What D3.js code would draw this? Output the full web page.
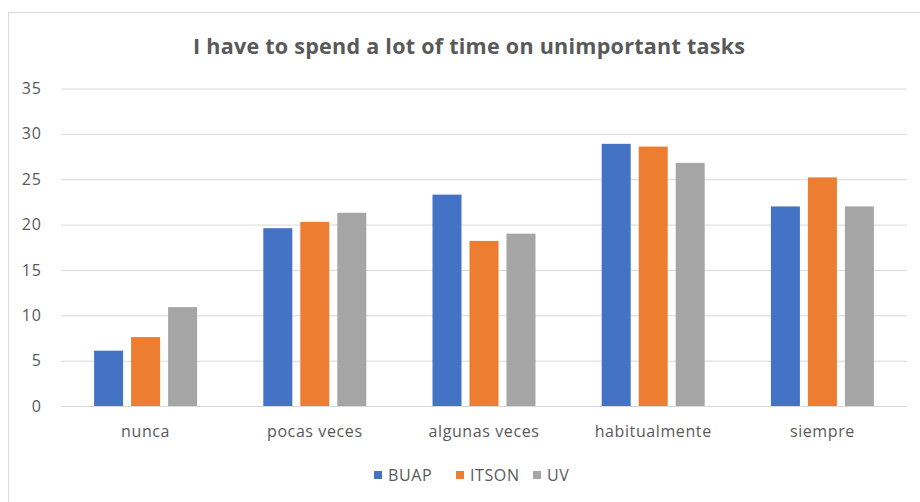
<!DOCTYPE html>
<html>
<head>
<meta charset="utf-8">
<script src="https://cdn.jsdelivr.net/npm/d3@7"></script>
<style>
  body { margin: 0; background: #fff; }
  text { font-family: "Open Sans", "Noto Sans", sans-serif; fill: #595959; }
</style>
</head>
<body>
<div id="chart"></div>
<script>
// chart data
const categories = ['nunca', 'pocas veces', 'algunas veces', 'habitualmente', 'siempre'];
const seriesNames = ['BUAP', 'ITSON', 'UV'];
const buap  = [6.1, 19.6, 23.3, 28.9, 22.0];
const itson = [7.6, 20.3, 18.2, 28.6, 25.2];
const uv    = [10.9, 21.3, 19.0, 26.8, 22.0];
const yTicks = [0, 5, 10, 15, 20, 25, 30, 35];
const colors = ['#4472C4', '#ED7D31', '#A5A5A5'];

const series = [buap, itson, uv];

const width = 920, height = 502;
const margin = { top: 88.5, right: 13, bottom: 96, left: 61 };
const innerW = width - margin.left - margin.right;
const innerH = height - margin.top - margin.bottom;

const svg = d3.select('#chart').append('svg')
  .attr('width', width)
  .attr('height', height);

// outer frame
svg.append('rect')
  .attr('x', 8.5).attr('y', 12.5)
  .attr('width', width + 10).attr('height', height)
  .attr('fill', '#fff')
  .attr('stroke', '#d9d9d9');

svg.append('text')
  .attr('x', 469).attr('y', 54)
  .attr('text-anchor', 'middle')
  .attr('font-size', '21.5px')
  .attr('font-weight', 'bold')
  .attr('textLength', 552)
  .attr('lengthAdjust', 'spacing')
  .text('I have to spend a lot of time on unimportant tasks');

const chart = svg.append('g')
  .attr('transform', `translate(${margin.left},${margin.top})`);

const x0 = d3.scaleBand().domain(categories).range([0, innerW]).padding(0);
const groupW = 103;
const x1 = d3.scaleBand().domain(seriesNames)
  .range([(x0.bandwidth() - groupW) / 2, (x0.bandwidth() + groupW) / 2])
  .paddingInner(0.216);
const y = d3.scaleLinear().domain([0, 35]).range([innerH, 0]);

// gridlines + y labels
const yAxis = d3.axisLeft(y).tickValues(yTicks).tickSize(-innerW).tickPadding(19);
chart.append('g')
  .call(yAxis)
  .call(g => g.select('.domain').remove())
  .call(g => g.selectAll('.tick line').attr('stroke', '#d9d9d9'))
  .call(g => g.selectAll('.tick text')
    .attr('font-size', '16px')
    .attr('letter-spacing', '1px')
    .attr('fill', '#595959')
    .attr('font-family', '"Open Sans", sans-serif'));

// bars
const groups = chart.selectAll('.cat')
  .data(categories)
  .join('g')
  .attr('class', 'cat')
  .attr('transform', d => `translate(${x0(d)},0)`);

groups.selectAll('rect')
  .data((d, i) => seriesNames.map((s, j) => ({ s, v: series[j][i], c: colors[j] })))
  .join('rect')
  .attr('x', d => x1(d.s))
  .attr('y', d => y(d.v))
  .attr('width', x1.bandwidth())
  .attr('height', d => y(0) - y(d.v))
  .attr('fill', d => d.c);

// x axis labels
const xAxis = d3.axisBottom(x0).tickSize(0).tickPadding(20);
chart.append('g')
  .attr('transform', `translate(0,${innerH})`)
  .call(xAxis)
  .call(g => g.select('.domain').remove())
  .call(g => g.selectAll('.tick text')
    .attr('font-size', '16px')
    .attr('letter-spacing', '0.6px')
    .attr('fill', '#595959')
    .attr('font-family', '"Open Sans", sans-serif'));

// legend
const legendX = [374, 456, 533];
const legend = svg.append('g').attr('transform', 'translate(0,476)');
seriesNames.forEach((s, i) => {
  legend.append('rect')
    .attr('x', legendX[i]).attr('y', -5)
    .attr('width', 8).attr('height', 8)
    .attr('fill', colors[i]);
  legend.append('text')
    .attr('x', legendX[i] + 14).attr('y', 5)
    .attr('font-size', '16px')
    .attr('letter-spacing', '0.6px')
    .text(s);
});
</script>
</body>
</html>
